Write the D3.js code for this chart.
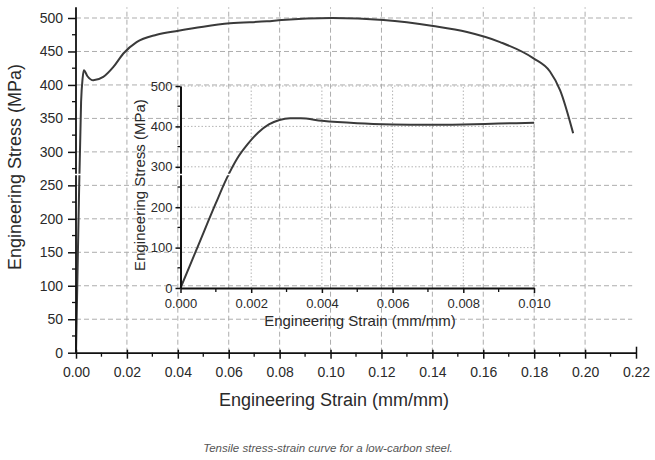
<!DOCTYPE html>
<html>
<head>
<meta charset="utf-8">
<script src="https://cdn.jsdelivr.net/npm/d3@7"></script>
<style>
    body { margin: 0; background: #fff; }
    svg { display: block; font-family: "Liberation Sans", Arial, sans-serif; }
</style>
</head>
<body>
<div id="chart"></div>
<script>
// main curve: engineering strain (mm/mm) vs engineering stress (MPa)
const mainStrain = [0, 0.001, 0.002, 0.0026, 0.0031, 0.0045, 0.0068, 0.0107, 0.0147, 0.0186, 0.0238,
    0.0317, 0.0402, 0.05, 0.0605, 0.075, 0.0808, 0.1007, 0.1208, 0.1403, 0.1536, 0.1666,
    0.1796, 0.1862, 0.1902, 0.1953];
const mainStress = [0, 200, 375, 410, 422, 413, 407, 412, 427, 447, 464,
    475, 481, 487, 492, 495, 497, 500, 497, 488, 479, 464,
    440, 420, 392, 328];

// inset: the elastic / yield region
const insetStrain = [0, 0.0005, 0.001, 0.0013, 0.0016, 0.0019, 0.0022, 0.0025, 0.0028, 0.0031, 0.0034,
    0.004, 0.005, 0.006, 0.007, 0.008, 0.009, 0.010];
const insetStress = [0, 105, 210, 270, 320, 356, 385, 405, 416, 420, 420,
    414, 408, 405, 404, 405, 407, 409];

const mainXTicks = [0, 0.02, 0.04, 0.06, 0.08, 0.10, 0.12, 0.14, 0.16, 0.18, 0.20, 0.22];
const mainYTicks = [0, 50, 100, 150, 200, 250, 300, 350, 400, 450, 500];
const insetXTicks = [0, 0.002, 0.004, 0.006, 0.008, 0.010];
const insetYTicks = [0, 100, 200, 300, 400, 500];

const width = 655, height = 460;
const svg = d3.select('#chart').append('svg')
    .attr('width', width)
    .attr('height', height);

const x = d3.scaleLinear().domain([0, 0.22]).range([76, 636]);
const y = d3.scaleLinear().domain([0, 500]).range([352.7, 18]);
const ix = d3.scaleLinear().domain([0, 0.010]).range([180.5, 534]);
const iy = d3.scaleLinear().domain([0, 500]).range([288, 86]);

const yTop = y(516);

// main grid (dashed)
const grid = svg.append('g')
    .attr('stroke', '#adadad')
    .attr('stroke-width', 1)
    .attr('stroke-dasharray', '5,3');
grid.selectAll('.vx')
    .data(mainXTicks.filter(d => d > 0 && d < 0.21))
    .enter().append('line')
    .attr('x1', d => x(d)).attr('x2', d => x(d))
    .attr('y1', y(0)).attr('y2', yTop);
grid.selectAll('.hy')
    .data(mainYTicks.filter(d => d > 0))
    .enter().append('line')
    .attr('x1', x(0)).attr('x2', x(0.2185))
    .attr('y1', d => y(d)).attr('y2', d => y(d));

// inset grid (dotted)
const igrid = svg.append('g')
    .attr('stroke', '#b4b4b4')
    .attr('stroke-width', 1)
    .attr('stroke-dasharray', '1.5,2');
igrid.selectAll('.vx')
    .data(insetXTicks.filter(d => d > 0))
    .enter().append('line')
    .attr('x1', d => ix(d)).attr('x2', d => ix(d))
    .attr('y1', iy(0)).attr('y2', iy(500));
igrid.selectAll('.hy')
    .data(insetYTicks.filter(d => d > 0))
    .enter().append('line')
    .attr('x1', ix(0)).attr('x2', ix(0.010))
    .attr('y1', d => iy(d)).attr('y2', d => iy(d));

// curves
const mainLine = d3.line()
    .x(d => x(d[0]))
    .y(d => y(d[1]))
    .curve(d3.curveMonotoneX);
const insetLine = d3.line()
    .x(d => ix(d[0]))
    .y(d => iy(d[1]))
    .curve(d3.curveMonotoneX);

svg.append('path')
    .datum(mainStrain.map((s, i) => [s, mainStress[i]]))
    .attr('fill', 'none')
    .attr('stroke', '#3a3a3a')
    .attr('stroke-width', 2)
    .attr('d', mainLine);

svg.append('path')
    .datum(insetStrain.map((s, i) => [s, insetStress[i]]))
    .attr('fill', 'none')
    .attr('stroke', '#3a3a3a')
    .attr('stroke-width', 2)
    .attr('d', insetLine);

// main axes
const fmt2 = d3.format('.2f');
const xAxis = svg.append('g')
    .attr('transform', 'translate(0,' + y(0) + ')')
    .call(d3.axisBottom(x).tickValues(mainXTicks).tickFormat(fmt2).tickSize(6).tickSizeOuter(0).tickPadding(8));
xAxis.selectAll('.tick line').attr('y1', -3);
xAxis.selectAll('.tick line').filter(d => d === 0.22).attr('y1', -6);

const yAxis = svg.append('g')
    .attr('transform', 'translate(' + x(0) + ',0)')
    .call(d3.axisLeft(y).tickValues(mainYTicks).tickSize(8).tickSizeOuter(0).tickPadding(5));
yAxis.select('.domain').attr('d', 'M0,' + y(0) + 'V' + yTop);

[xAxis, yAxis].forEach(a => {
    a.select('.domain').attr('stroke', '#111').attr('stroke-width', 1.8);
    a.selectAll('.tick line').attr('stroke', '#111').attr('stroke-width', 1.5);
    a.selectAll('.tick text').attr('fill', '#2a2a2a').style('font-size', '14px');
});

// minor ticks of main axes
svg.append('g').selectAll('line')
    .data(d3.range(0.01, 0.22, 0.02))
    .enter().append('line')
    .attr('x1', d => x(d)).attr('x2', d => x(d))
    .attr('y1', y(0)).attr('y2', y(0) + 4)
    .attr('stroke', '#111').attr('stroke-width', 1.3);
svg.append('g').selectAll('line')
    .data(d3.range(25, 525, 50))
    .enter().append('line')
    .attr('x1', x(0) - 4).attr('x2', x(0))
    .attr('y1', d => y(d)).attr('y2', d => y(d))
    .attr('stroke', '#111').attr('stroke-width', 1.3);

// inset axes
const ixAxis = svg.append('g')
    .attr('transform', 'translate(0,' + iy(0) + ')')
    .call(d3.axisBottom(ix).tickValues(insetXTicks).tickFormat(d3.format('.3f')).tickSize(5).tickSizeOuter(0).tickPadding(6));
const iyAxis = svg.append('g')
    .attr('transform', 'translate(' + ix(0) + ',0)')
    .call(d3.axisLeft(iy).tickValues(insetYTicks).tickSize(5).tickSizeOuter(0).tickPadding(3));

[ixAxis, iyAxis].forEach(a => {
    a.select('.domain').attr('stroke', '#111').attr('stroke-width', 2);
    a.selectAll('.tick line').attr('stroke', '#111').attr('stroke-width', 1.5);
    a.selectAll('.tick text').attr('fill', '#2a2a2a').style('font-size', '13px');
});

svg.append('g').selectAll('line')
    .data(d3.range(0.001, 0.010, 0.002))
    .enter().append('line')
    .attr('x1', d => ix(d)).attr('x2', d => ix(d))
    .attr('y1', iy(0)).attr('y2', iy(0) + 4)
    .attr('stroke', '#111').attr('stroke-width', 1.3);
svg.append('g').selectAll('line')
    .data(d3.range(50, 500, 100))
    .enter().append('line')
    .attr('x1', ix(0) - 3).attr('x2', ix(0))
    .attr('y1', d => iy(d)).attr('y2', d => iy(d))
    .attr('stroke', '#111').attr('stroke-width', 1.3);

// axis break
svg.append('line')
    .attr('x1', x(0) - 2).attr('x2', ix(0.0015))
    .attr('y1', 174.5).attr('y2', 174.5)
    .attr('stroke', '#fff')
    .attr('stroke-width', 1.6);

// titles
svg.append('text')
    .attr('transform', 'translate(21,167) rotate(-90)')
    .attr('text-anchor', 'middle')
    .attr('fill', '#2a2a2a')
    .style('font-size', '18px')
    .text('Engineering Stress (MPa)');

svg.append('text')
    .attr('x', 334).attr('y', 406)
    .attr('text-anchor', 'middle')
    .attr('fill', '#2a2a2a')
    .style('font-size', '18px')
    .text('Engineering Strain (mm/mm)');

svg.append('text')
    .attr('transform', 'translate(145,185) rotate(-90)')
    .attr('text-anchor', 'middle')
    .attr('fill', '#2a2a2a')
    .style('font-size', '15px')
    .text('Engineering Stress (MPa)');

svg.append('text')
    .attr('x', 360).attr('y', 326)
    .attr('text-anchor', 'middle')
    .attr('fill', '#2a2a2a')
    .style('font-size', '15px')
    .text('Engineering Strain (mm/mm)');

svg.append('text')
    .attr('x', 328).attr('y', 452)
    .attr('text-anchor', 'middle')
    .attr('fill', '#555')
    .style('font-size', '11.5px')
    .style('font-style', 'italic')
    .text('Tensile stress-strain curve for a low-carbon steel.');
</script>
</body>
</html>
